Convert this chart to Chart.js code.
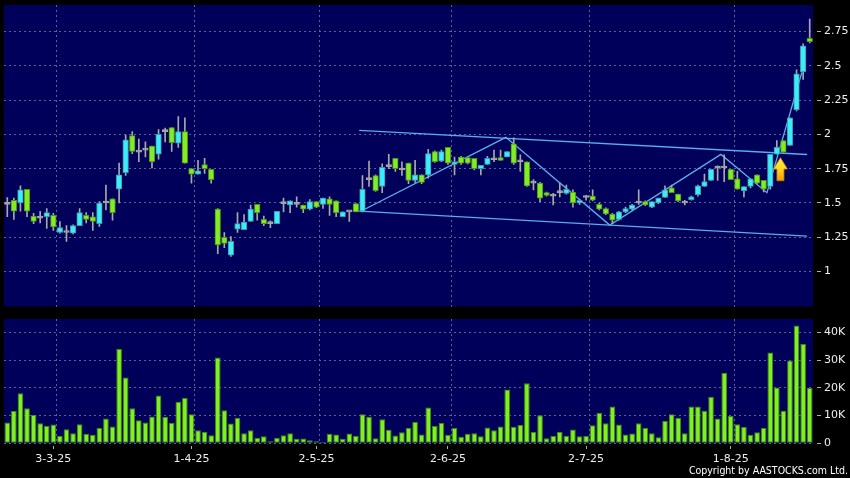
<!DOCTYPE html>
<html>
<head>
<meta charset="utf-8">
<script src="https://cdn.jsdelivr.net/npm/chart.js@4.4.1/dist/chart.umd.min.js"></script>
<style>
  html, body { margin: 0; padding: 0; background: #000; }
  #wrap { position: relative; width: 850px; height: 478px; overflow: hidden; background: #000; }
  #priceChart { position: absolute; left: 0; top: 0; }
  #volChart { position: absolute; left: 0; top: 307px; }
  #copy { position: absolute; right: 2px; top: 464px; line-height: 12px; color: #fff;
          font-family: 'DejaVu Sans Condensed', 'DejaVu Sans', sans-serif; font-size: 10.5px; white-space: nowrap; }
</style>
</head>
<body>
<div id="wrap">
  <canvas id="priceChart" width="850" height="307"></canvas>
  <canvas id="volChart" width="850" height="171"></canvas>
  <div id="copy">Copyright by AASTOCKS.com Ltd.</div>
</div>
<script>
// trading days shown on the chart
const dates = [
  '20-2-25','21-2-25','24-2-25','25-2-25','26-2-25','27-2-25','28-2-25',
  '3-3-25','4-3-25','5-3-25','6-3-25','7-3-25','10-3-25','11-3-25','12-3-25','13-3-25','14-3-25','17-3-25','18-3-25','19-3-25','20-3-25','21-3-25','24-3-25','25-3-25','26-3-25','27-3-25','28-3-25','31-3-25',
  '1-4-25','2-4-25','3-4-25','7-4-25','8-4-25','9-4-25','10-4-25','11-4-25','14-4-25','15-4-25','16-4-25','17-4-25','22-4-25','23-4-25','24-4-25','25-4-25','28-4-25','29-4-25','30-4-25',
  '2-5-25','6-5-25','7-5-25','8-5-25','9-5-25','12-5-25','13-5-25','14-5-25','15-5-25','16-5-25','19-5-25','20-5-25','21-5-25','22-5-25','23-5-25','26-5-25','27-5-25','28-5-25','29-5-25','30-5-25',
  '2-6-25','3-6-25','4-6-25','5-6-25','6-6-25','9-6-25','10-6-25','11-6-25','12-6-25','13-6-25','16-6-25','17-6-25','18-6-25','19-6-25','20-6-25','23-6-25','24-6-25','25-6-25','26-6-25','27-6-25','30-6-25',
  '2-7-25','3-7-25','4-7-25','7-7-25','8-7-25','9-7-25','10-7-25','11-7-25','14-7-25','15-7-25','16-7-25','17-7-25','18-7-25','21-7-25','22-7-25','23-7-25','24-7-25','25-7-25','28-7-25','29-7-25','30-7-25','31-7-25',
  '1-8-25','4-8-25','5-8-25','6-8-25','7-8-25','8-8-25','11-8-25','12-8-25','13-8-25','14-8-25','15-8-25','18-8-25','19-8-25'
];
const axisDates = ['3-3-25', '1-4-25', '2-5-25', '2-6-25', '2-7-25', '1-8-25'];

const opens = [
  1.49,1.52,1.50,1.60,1.405,1.39,1.40,1.41,1.285,1.285,
  1.28,1.335,1.41,1.40,1.35,1.50,1.53,1.60,1.72,1.99,
  1.87,1.885,1.915,1.855,2.02,2.05,1.935,2.02,1.75,1.71,
  1.78,1.745,1.455,1.25,1.12,1.31,1.305,1.365,1.49,1.38,
  1.35,1.35,1.495,1.485,1.49,1.485,1.455,1.51,1.49,1.53,
  1.515,1.40,1.435,1.495,1.44,1.67,1.70,1.62,1.765,1.825,
  1.74,1.79,1.665,1.705,1.705,1.875,1.805,1.905,1.78,1.835,
  1.83,1.825,1.75,1.78,1.815,1.83,1.835,1.93,1.80,1.80,
  1.645,1.645,1.575,1.55,1.575,1.57,1.58,1.50,1.54,1.55,
  1.49,1.46,1.42,1.38,1.435,1.455,1.50,1.51,1.47,1.50,
  1.54,1.61,1.565,1.50,1.525,1.56,1.62,1.665,1.755,1.755,
  1.745,1.675,1.59,1.62,1.705,1.665,1.62,1.855,1.955,1.92,
  2.18,2.455,2.70
];
const highs = [
  1.54,1.535,1.625,1.60,1.425,1.44,1.46,1.425,1.365,1.335,
  1.34,1.46,1.43,1.43,1.51,1.63,1.53,1.79,1.995,2.02,
  1.965,1.945,1.915,2.035,2.045,2.05,2.13,2.12,1.75,1.81,
  1.825,1.745,1.46,1.285,1.255,1.43,1.415,1.485,1.49,1.405,
  1.37,1.44,1.535,1.515,1.545,1.485,1.525,1.51,1.535,1.545,
  1.515,1.435,1.435,1.495,1.70,1.805,1.705,1.785,1.855,1.825,
  1.80,1.79,1.81,1.705,1.89,1.88,1.885,1.905,1.835,1.84,
  1.83,1.825,1.775,1.84,1.885,1.885,1.875,1.975,1.85,1.80,
  1.67,1.65,1.58,1.57,1.645,1.63,1.595,1.525,1.555,1.595,
  1.50,1.465,1.425,1.44,1.47,1.49,1.595,1.515,1.51,1.535,
  1.625,1.63,1.565,1.52,1.55,1.63,1.71,1.745,1.77,1.85,
  1.745,1.73,1.62,1.675,1.705,1.665,1.855,1.955,1.955,2.12,
  2.47,2.66,2.84
];
const lows = [
  1.40,1.38,1.44,1.40,1.35,1.355,1.315,1.30,1.28,1.22,
  1.275,1.335,1.355,1.30,1.33,1.45,1.375,1.50,1.70,1.86,
  1.80,1.835,1.755,1.82,1.945,1.875,1.905,1.79,1.645,1.71,
  1.715,1.645,1.13,1.175,1.11,1.285,1.305,1.365,1.375,1.335,
  1.32,1.35,1.435,1.43,1.47,1.43,1.45,1.465,1.46,1.41,
  1.40,1.40,1.365,1.435,1.435,1.62,1.585,1.575,1.75,1.73,
  1.70,1.64,1.65,1.64,1.68,1.795,1.80,1.78,1.705,1.78,
  1.785,1.74,1.705,1.78,1.80,1.81,1.835,1.78,1.73,1.62,
  1.595,1.51,1.55,1.485,1.545,1.565,1.47,1.49,1.52,1.515,
  1.45,1.415,1.35,1.375,1.43,1.45,1.49,1.48,1.465,1.495,
  1.54,1.575,1.51,1.485,1.52,1.55,1.62,1.665,1.665,1.655,
  1.67,1.60,1.545,1.61,1.64,1.58,1.60,1.855,1.87,1.92,
  2.17,2.40,2.665
];
const closes = [
  1.49,1.44,1.595,1.44,1.365,1.39,1.43,1.325,1.32,1.285,
  1.335,1.43,1.38,1.365,1.50,1.50,1.43,1.705,1.96,1.875,
  1.87,1.885,1.80,2.00,2.02,1.94,2.02,1.79,1.71,1.735,
  1.75,1.67,1.195,1.205,1.22,1.35,1.36,1.455,1.43,1.35,
  1.35,1.44,1.495,1.515,1.49,1.455,1.51,1.47,1.535,1.49,
  1.43,1.435,1.435,1.435,1.60,1.67,1.59,1.76,1.765,1.75,
  1.74,1.665,1.705,1.65,1.86,1.80,1.875,1.79,1.80,1.79,
  1.79,1.75,1.775,1.825,1.815,1.81,1.875,1.79,1.80,1.625,
  1.645,1.535,1.555,1.55,1.575,1.60,1.50,1.52,1.54,1.52,
  1.455,1.42,1.375,1.435,1.46,1.485,1.50,1.485,1.51,1.535,
  1.595,1.575,1.515,1.50,1.545,1.625,1.655,1.745,1.755,1.755,
  1.67,1.60,1.62,1.675,1.645,1.60,1.855,1.905,1.87,2.12,
  2.44,2.645,2.675
];
const volumes = [
  7500,11600,18000,12600,10300,7200,6200,6800,2600,5100,
  3600,6900,3400,3100,5500,8900,6100,34000,23700,12600,
  8300,7500,9700,17200,9600,7300,15000,16300,10500,4700,
  4200,2900,30900,11900,7100,9200,3600,4700,1900,2500,
  700,1900,2900,3600,1600,1700,1100,700,500,3400,
  3200,1600,3500,2600,10500,9600,1800,8700,4900,2800,
  4000,5500,7700,3200,12900,6200,7300,3100,5500,2400,
  3400,3600,2500,5700,4700,6100,19400,6000,6600,21600,
  4100,10100,1800,2600,4200,2600,5000,2500,2600,6500,
  11000,7200,13300,6800,3200,3500,7200,5500,3600,2200,
  8000,10500,9100,3600,13300,13300,11700,16800,8900,25400,
  9800,6900,5900,3100,4000,5500,32700,20100,11700,29800,
  42500,35800,19900
];

const priceTicks = [1, 1.25, 1.5, 1.75, 2, 2.25, 2.5, 2.75];
const priceTickLabels = ['1', '1.25', '1.5', '1.75', '2', '2.25', '2.5', '2.75'];
const volumeTicks = [0, 10000, 20000, 30000, 40000];
const volumeTickLabels = ['0', '10K', '20K', '30K', '40K'];

// drawn trend lines: [bar index, price]
const channelTop = [[53.5, 2.029], [121.6, 1.853]];
const channelBottom = [[53.5, 1.441], [121.6, 1.259]];
const zigzag = [[53.6, 1.436], [75.8, 1.978], [91.6, 1.339], [108.5, 1.854], [115.5, 1.575], [120.8, 2.45]];
const arrowMark = { index: 117.55, tip: 1.83, neck: 1.747, base: 1.662 };

const upColor = '#3cecf6', downColor = '#82ec24', flatColor = '#a8a8a8';
const upEdge = '#3d97ac', downEdge = '#4f9418';
const wickColor = '#a8a8a8';
const gridColor = '#5e5e9c';
const lineColor = '#58aee8';
const panelColor = '#00005a';

Chart.defaults.font.family = "'DejaVu Sans', Verdana, sans-serif";
Chart.defaults.font.size = 11;
Chart.defaults.color = '#eeeeee';
Chart.defaults.animation = false;

const panelBg = {
  id: 'panelBg',
  beforeDraw(chart) {
    const { ctx, chartArea: a } = chart;
    ctx.save();
    ctx.fillStyle = panelColor;
    ctx.fillRect(a.left, a.top, a.right - a.left, a.bottom - a.top);
    ctx.restore();
  }
};

const arrowPlugin = {
  id: 'arrowMark',
  afterDatasetsDraw(chart) {
    const xs = chart.scales.xl, ys = chart.scales.y, ctx = chart.ctx;
    const x = xs.getPixelForValue(arrowMark.index);
    const tip = ys.getPixelForValue(arrowMark.tip);
    const neck = ys.getPixelForValue(arrowMark.neck);
    const base = ys.getPixelForValue(arrowMark.base);
    const g = ctx.createLinearGradient(0, tip, 0, base);
    g.addColorStop(0, '#fff04a');
    g.addColorStop(0.55, '#ffd21e');
    g.addColorStop(1, '#f09a00');
    ctx.save();
    ctx.beginPath();
    ctx.moveTo(x, tip);
    ctx.lineTo(x + 7, neck);
    ctx.lineTo(x + 3.5, neck);
    ctx.lineTo(x + 3.5, base);
    ctx.lineTo(x - 3.5, base);
    ctx.lineTo(x - 3.5, neck);
    ctx.lineTo(x - 7, neck);
    ctx.closePath();
    ctx.fillStyle = g;
    ctx.fill();
    ctx.strokeStyle = '#c88000';
    ctx.lineWidth = 0.8;
    ctx.stroke();
    ctx.restore();
  }
};

const gridIdx = axisDates.map(d => dates.indexOf(d) + 0.5);

// linear helper axis spanning the same bands as the category axis
function gridAxis() {
  return {
    type: 'linear', position: 'bottom', min: -0.5, max: dates.length - 0.5, offset: false,
    afterBuildTicks: s => { s.ticks = gridIdx.map(v => ({ value: v })); },
    ticks: { display: false },
    grid: { offset: false, color: gridColor, lineWidth: 1, drawTicks: false },
    border: { display: false, dash: [2, 3] }
  };
}

function rightAxis(min, max, tickVals, tickLabels) {
  return {
    position: 'right', min: min, max: max,
    afterBuildTicks: s => { s.ticks = tickVals.map(v => ({ value: v })); },
    afterFit: s => { s.width = 37; s.paddingTop = 0; s.paddingBottom = 0; },
    ticks: { padding: 3, color: '#eeeeee', callback: (v, i) => tickLabels[i] },
    grid: { color: gridColor, lineWidth: 1, tickLength: 8, tickColor: '#b0b0b0', tickWidth: 1, tickBorderDash: [0, 4, 4, 40] },
    border: { display: false, dash: [2, 3] }
  };
}

const toPts = arr => arr.map(([x, y]) => ({ x: x, y: y }));
const trendSet = (label, arr) => ({
  type: 'line', label: label, data: toPts(arr), xAxisID: 'xl', yAxisID: 'y',
  borderColor: lineColor, borderWidth: 1.3, pointRadius: 0, tension: 0, order: 5
});

const bodyColors = opens.map((o, i) => closes[i] > o ? upColor : closes[i] < o ? downColor : flatColor);
const bodyEdges = opens.map((o, i) => closes[i] > o ? upEdge : closes[i] < o ? downEdge : flatColor);

new Chart(document.getElementById('priceChart'), {
  type: 'bar',
  data: {
    labels: dates,
    datasets: [
      trendSet('Channel top', channelTop),
      trendSet('Channel bottom', channelBottom),
      trendSet('Zigzag', zigzag),
      {
        label: 'Range', data: lows.map((l, i) => [l, highs[i]]),
        backgroundColor: wickColor, barThickness: 1, grouped: false, order: 3
      },
      {
        label: 'Body', data: opens.map((o, i) => [o, closes[i]]),
        backgroundColor: bodyColors, borderColor: bodyEdges, borderWidth: 1,
        borderSkipped: false, barThickness: 5.6, minBarLength: 2, grouped: false, order: 1
      }
    ]
  },
  options: {
    responsive: false,
    layout: { padding: { top: 5, left: 4, right: 0, bottom: 0.5 } },
    plugins: { legend: { display: false }, tooltip: { enabled: false } },
    scales: {
      x: { display: false, offset: true },
      xl: gridAxis(),
      y: rightAxis(0.746, 2.942, priceTicks, priceTickLabels)
    }
  },
  plugins: [panelBg, arrowPlugin]
});

new Chart(document.getElementById('volChart'), {
  type: 'bar',
  data: {
    labels: dates,
    datasets: [{
      label: 'Volume', data: volumes,
      backgroundColor: '#80f020', borderColor: '#3f8c0c', borderWidth: 1, borderSkipped: false,
      categoryPercentage: 1, barPercentage: 0.86
    }]
  },
  options: {
    responsive: false,
    layout: { padding: { top: 12, left: 4, right: 0, bottom: 0 } },
    plugins: { legend: { display: false }, tooltip: { enabled: false } },
    scales: {
      x: {
        offset: true,
        afterFit: s => { s.height = 34.7; },
        ticks: {
          autoSkip: false, maxRotation: 0, padding: 3, color: '#eeeeee',
          callback: (v, i) => axisDates.includes(dates[i]) ? dates[i] : null
        },
        grid: { offset: false, drawOnChartArea: false, drawTicks: true, tickLength: 6, tickColor: '#b0b0b0', tickBorderDash: [0, 3, 3, 40] },
        border: { display: false }
      },
      xl: gridAxis(),
      y: rightAxis(0, 44800, volumeTicks, volumeTickLabels)
    }
  },
  plugins: [panelBg]
});
</script>
</body>
</html>
